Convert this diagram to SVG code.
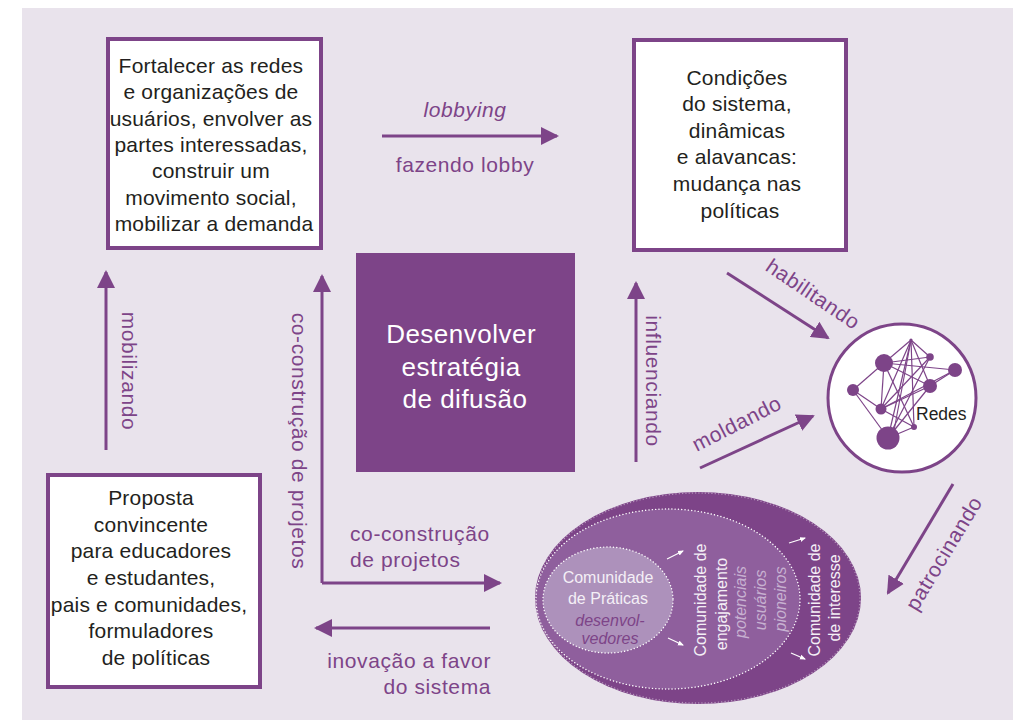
<svg xmlns="http://www.w3.org/2000/svg" width="1013" height="720" viewBox="0 0 1013 720">
  <defs>
    <marker id="head" markerUnits="userSpaceOnUse" markerWidth="18" markerHeight="18" refX="16" refY="9" orient="auto">
      <path d="M0,0 L18,9 L0,18 z" fill="#7d4488"/>
    </marker>
    <marker id="headSmall" markerUnits="userSpaceOnUse" markerWidth="6" markerHeight="6" refX="5" refY="3" orient="auto">
      <path d="M0,0.5 L6,3 L0,5.5 z" fill="#ffffff"/>
    </marker>
    <style>
      .box { fill: #ffffff; stroke: #7d4488; stroke-width: 4; }
      .body { font-family: "Liberation Sans", Arial, sans-serif; font-size: 21px; fill: #231f20; text-anchor: middle; letter-spacing: 0.2px; }
      .lbl { font-family: "Liberation Sans", Arial, sans-serif; font-size: 21px; fill: #7d4488; letter-spacing: 0.6px; }
      .arrow { fill: none; stroke: #7d4488; stroke-width: 3; marker-end: url(#head); }
      .net { stroke: #7d4488; stroke-width: 1.2; fill: none; }
      .dot { fill: #7d4488; }
      .wtxt { font-family: "Liberation Sans", Arial, sans-serif; font-size: 16px; fill: #f4eff6; text-anchor: middle; }
      .itxt { font-family: "Liberation Sans", Arial, sans-serif; font-size: 16px; font-style: italic; text-anchor: middle; }
      .warrow { stroke: #ffffff; stroke-width: 1.2; marker-end: url(#headSmall); }
    </style>
  </defs>

  <!-- page -->
  <rect x="0" y="0" width="1013" height="720" fill="#ffffff"/>
  <rect x="22" y="8" width="991" height="712" fill="#e9e3ec"/>

  <!-- connectors -->
  <g id="connectors">
    <line class="arrow" x1="382" y1="136" x2="557" y2="136"/>
    <line class="arrow" x1="106" y1="450" x2="106" y2="272"/>
    <polyline class="arrow" points="322,583 322,276"/>
    <polyline class="arrow" points="322,583 500,583"/>
    <line class="arrow" x1="490" y1="628" x2="316" y2="628"/>
    <line class="arrow" x1="636" y1="462" x2="636" y2="283"/>
    <line class="arrow" x1="727" y1="273" x2="828" y2="338"/>
    <line class="arrow" x1="700" y1="468" x2="813" y2="416"/>
    <line class="arrow" x1="953" y1="484" x2="888" y2="593"/>

    <text class="lbl" x="465" y="117" text-anchor="middle" font-style="italic">lobbying</text>
    <text class="lbl" x="465" y="172" text-anchor="middle">fazendo lobby</text>
    <text class="lbl" transform="translate(122,371) rotate(90)" text-anchor="middle">mobilizando</text>
    <text class="lbl" transform="translate(292,441) rotate(90)" text-anchor="middle">co-construção de projetos</text>
    <text class="lbl" x="350" y="541">co-construção</text>
    <text class="lbl" x="350" y="567">de projetos</text>
    <text class="lbl" x="491" y="668" text-anchor="end">inovação a favor</text>
    <text class="lbl" x="491" y="694" text-anchor="end">do sistema</text>
    <text class="lbl" transform="translate(646,381) rotate(90)" text-anchor="middle">influenciando</text>
    <text class="lbl" transform="translate(809,300) rotate(34)" text-anchor="middle">habilitando</text>
    <text class="lbl" transform="translate(740,430) rotate(-27)" text-anchor="middle">moldando</text>
    <text class="lbl" transform="translate(950,557) rotate(-59)" text-anchor="middle">patrocinando</text>
  </g>

  <!-- user networks box -->
  <g id="node-fortalecer">
    <rect class="box" x="108" y="39" width="213" height="209"/>
    <text class="body" x="214">
      <tspan x="214" y="73">Fortalecer as redes</tspan>
      <tspan x="214" y="99">e organizações de</tspan>
      <tspan x="214" y="126">usuários, envolver as</tspan>
      <tspan x="214" y="152">partes interessadas,</tspan>
      <tspan x="214" y="178">construir um</tspan>
      <tspan x="214" y="205">movimento social,</tspan>
      <tspan x="214" y="231">mobilizar a demanda</tspan>
    </text>
  </g>

  <!-- system conditions box -->
  <g id="node-condicoes">
    <rect class="box" x="634" y="40" width="212" height="210"/>
    <text class="body" x="740">
      <tspan x="740" y="85">Condições</tspan>
      <tspan x="740" y="111">do sistema,</tspan>
      <tspan x="740" y="138">dinâmicas</tspan>
      <tspan x="740" y="164">e alavancas:</tspan>
      <tspan x="740" y="191">mudança nas</tspan>
      <tspan x="740" y="218">políticas</tspan>
    </text>
  </g>

  <!-- proposal box -->
  <g id="node-proposta">
    <rect class="box" x="48" y="475" width="212" height="212"/>
    <text class="body" x="154">
      <tspan x="154" y="505">Proposta</tspan>
      <tspan x="154" y="532">convincente</tspan>
      <tspan x="154" y="558">para educadores</tspan>
      <tspan x="154" y="585">e estudantes,</tspan>
      <tspan x="152" y="612">pais e comunidades,</tspan>
      <tspan x="154" y="638">formuladores</tspan>
      <tspan x="156" y="665">de políticas</tspan>
    </text>
  </g>

  <!-- central strategy block -->
  <g id="node-estrategia">
    <rect x="356" y="253" width="219" height="219" fill="#7d4488"/>
    <text font-family="Liberation Sans, Arial, sans-serif" font-size="26" fill="#ffffff" text-anchor="middle" letter-spacing="0.5">
      <tspan x="465" y="343">Desenvolver</tspan>
      <tspan x="465" y="376">estratégia</tspan>
      <tspan x="465" y="408">de difusão</tspan>
    </text>
  </g>

  <!-- networks circle -->
  <g id="node-redes">
    <circle cx="902" cy="398" r="74" fill="#ffffff" stroke="#7d4488" stroke-width="3"/>
    <g class="net">
      <line x1="911" y1="340" x2="884" y2="363"/>
      <line x1="911" y1="340" x2="930" y2="357"/>
      <line x1="911" y1="340" x2="930" y2="386"/>
      <line x1="911" y1="340" x2="881" y2="409"/>
      <line x1="911" y1="340" x2="888" y2="438"/>
      <line x1="911" y1="340" x2="893" y2="436"/>
      <line x1="911" y1="340" x2="914" y2="427"/>
      <line x1="884" y1="363" x2="930" y2="357"/>
      <line x1="884" y1="363" x2="955" y2="370"/>
      <line x1="884" y1="363" x2="930" y2="386"/>
      <line x1="884" y1="363" x2="914" y2="427"/>
      <line x1="884" y1="363" x2="881" y2="409"/>
      <line x1="853" y1="390" x2="884" y2="363"/>
      <line x1="853" y1="390" x2="888" y2="438"/>
      <line x1="853" y1="390" x2="881" y2="409"/>
      <line x1="930" y1="357" x2="881" y2="409"/>
      <line x1="930" y1="357" x2="888" y2="438"/>
      <line x1="955" y1="370" x2="930" y2="386"/>
      <line x1="955" y1="370" x2="881" y2="409"/>
      <line x1="930" y1="386" x2="888" y2="438"/>
      <line x1="930" y1="386" x2="881" y2="409"/>
      <line x1="881" y1="409" x2="914" y2="427"/>
      <line x1="888" y1="438" x2="914" y2="427"/>
    </g>
    <circle class="dot" cx="911" cy="340" r="1.6"/>
    <circle class="dot" cx="884" cy="363" r="9"/>
    <circle class="dot" cx="930" cy="357" r="3.8"/>
    <circle class="dot" cx="955" cy="370" r="7"/>
    <circle class="dot" cx="853" cy="390" r="6"/>
    <circle class="dot" cx="930" cy="386" r="7"/>
    <circle class="dot" cx="881" cy="409" r="5.5"/>
    <circle class="dot" cx="914" cy="427" r="3"/>
    <circle class="dot" cx="888" cy="438" r="11.5"/>
    <text x="916" y="420" font-family="Liberation Sans, Arial, sans-serif" font-size="17.5" fill="#231f20">Redes</text>
  </g>

  <!-- nested communities -->
  <g id="node-comunidades">
    <ellipse cx="698" cy="598" rx="163" ry="106" fill="#7d4488"/>
    <ellipse cx="698" cy="598" rx="162" ry="105" fill="none" stroke="#ffffff" stroke-opacity="0.45" stroke-width="1.3" stroke-dasharray="0.1 3.2" stroke-linecap="round"/>
    <ellipse cx="668" cy="599" rx="132" ry="90" fill="#8f5f9d" stroke="#ffffff" stroke-width="1.4" stroke-dasharray="0.1 3.2" stroke-linecap="round"/>
    <ellipse cx="608" cy="600" rx="65" ry="53" fill="#ad91bb" stroke="#ffffff" stroke-width="1.4" stroke-dasharray="0.1 3.2" stroke-linecap="round"/>

    <text class="wtxt" x="608" y="583">Comunidade</text>
    <text class="wtxt" x="608" y="604">de Práticas</text>
    <text class="itxt" x="610" y="626" fill="#7d4488">desenvol-</text>
    <text class="itxt" x="610" y="644" fill="#7d4488">vedores</text>

    <text class="wtxt" transform="translate(706,600) rotate(-90)">Comunidade de</text>
    <text class="wtxt" transform="translate(727,604) rotate(-90)">engajamento</text>
    <text class="itxt" transform="translate(746,602) rotate(-90)" fill="#c7b1d1">potenciais</text>
    <text class="itxt" transform="translate(766,600) rotate(-90)" fill="#c7b1d1">usuários</text>
    <text class="itxt" transform="translate(786,599) rotate(-90)" fill="#c7b1d1">pioneiros</text>
    <text class="wtxt" transform="translate(820,600) rotate(-90)">Comunidade de</text>
    <text class="wtxt" transform="translate(840,598) rotate(-90)">de interesse</text>

    <line class="warrow" x1="667" y1="559" x2="683" y2="551"/>
    <line class="warrow" x1="668" y1="638" x2="683" y2="645"/>
    <line class="warrow" x1="789" y1="543" x2="805" y2="538"/>
    <line class="warrow" x1="791" y1="653" x2="805" y2="659"/>
  </g>
</svg>
